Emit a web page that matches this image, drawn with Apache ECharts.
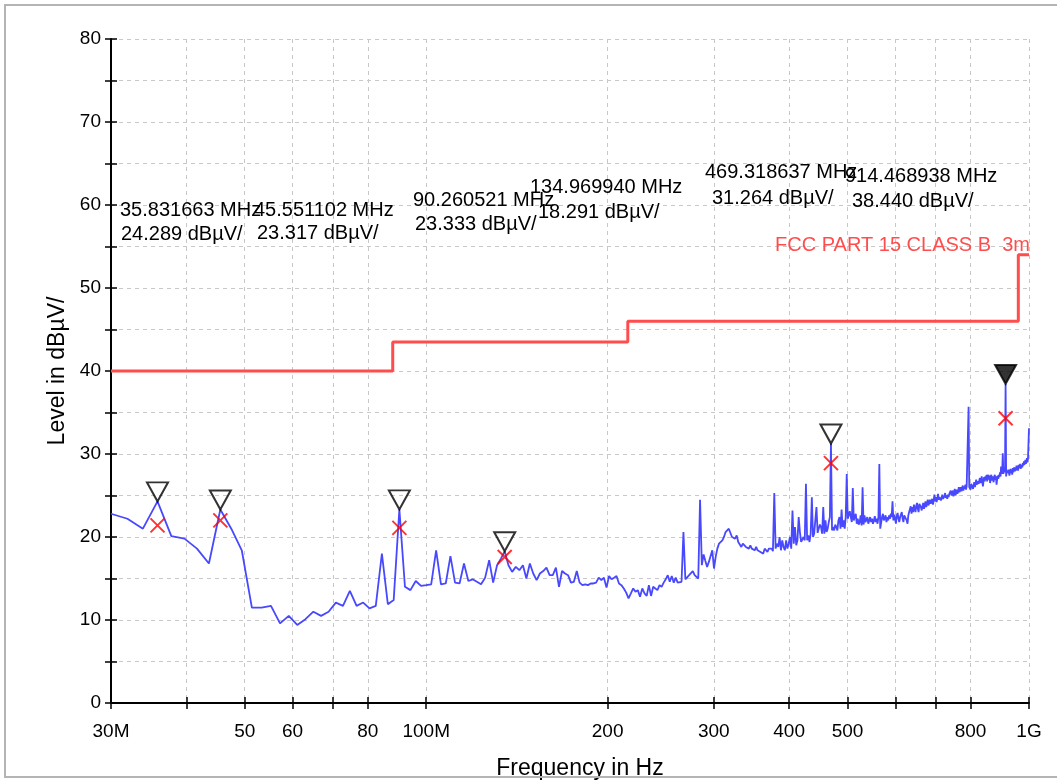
<!DOCTYPE html>
<html><head><meta charset="utf-8">
<script src="https://cdn.jsdelivr.net/npm/echarts@6/dist/echarts.min.js"></script>
<style>html,body{margin:0;padding:0;background:#fff}#c{width:1057px;height:780px}</style>
</head><body><div id="c"></div>
<script>
// ---- sweep definition (500 points, linear 30 MHz .. 1 GHz) ----
const sweepStartMHz = 30;
const sweepStopMHz = 1000;

const levelsA = [22.8,22.2,21.0,24.29,20.1,19.8,18.6,16.8,23.32,21.0,18.4,11.5,11.5,11.7,9.6,10.5,9.4,10.1,11.0,10.5,11.0,12.1,11.7,13.5,11.7,12.1,11.4,11.7,18.0,11.9,12.4,23.33,14.0,13.6,14.7,14.1,14.2,14.3,18.4,14.3,14.4,17.7,14.5,14.4,16.8,14.7,14.9,14.6,14.3,15.1,17.2,14.5,16.6,17.4,18.29];
const levelsB = [16.6,15.8,16.4,16.0,16.6,15.0,16.8,15.6,14.8,15.6,
 15.9,16.3,15.4,15.4,16.3,14.0,15.9,15.6,15.4,14.5,
 14.6,15.9,14.5,14.2,14.3,14.2,14.4,14.4,14.5,15.1,
 14.8,15.1,13.9,15.3,14.9,15.1,15.3,14.4,14.2,13.8,
 13.3,12.6,13.2,13.8,13.4,13.6,12.8,13.8,13.2,12.9,
 14.2,12.9,14.0,13.8,13.6,14.2,14.0,14.5,14.9,15.4,
 14.6,15.3,14.5,15.1,14.5,14.6,14.6,20.6,14.9,15.0,
 15.4,15.3,15.9,15.4,15.3,15.0];
const levelsC = [24.5,
 16.6,17.9,17.1,16.4,17.0,
 16.8,18.4,16.2,17.6,18.6,19.2,
 19.4,19.6,20.0,20.6,20.4,21.0,21.2,
 20.0,20.2,19.8,20.2,19.4,19.2,
 18.8,19.2,19.0,18.8,19.0,18.6,19.0,
 18.6,18.8,18.4,18.8,18.4,18.6,
 18.2,18.4,18.0,18.6,18.4,18.2,18.6,
 18.4,18.6,18.3,
 25.3,
 18.6,19.2,18.8,20.0,
 18.4,19.6,18.8,18.4,19.6,18.6,19.2,
 20.0,18.6,23.2,
 19.2,21.2,19.0,19.6,
 22.4,
 20.6,19.4,19.2,20.0,19.6,
 26.4,
 19.6,20.2,19.4,20.4,
 24.8,
 20.0,20.4,20.2,
 23.6,
 20.5,20.6,21.5,21.2,20.4,
 23.6,
 20.4,22.0,20.6,21.0,21.8,22.4,
 31.264,
 20.8,21.2,20.8,21.5,21.2,20.8,22.0,22.4,21.0,23.3,21.2,22.0,21.0,22.4,
 27.6,
 22.2,22.0,23.1,22.4,21.8,
 25.9,
 22.0,22.4,22.8,21.6,22.2,21.5,21.8,22.6,21.4,
 26.0,
 21.5,22.6,21.8,21.9,22.4,21.6,22.0,22.4,21.8,22.2,21.6,22.0,22.5,21.8,22.2,21.6,22.4,
 28.8,
 21.0,20.8,22.4,22.8,22.0,22.2,22.6,21.8,22.4,22.0,22.6,22.2,22.8,22.4,
 24.3];
const levelsD = [22.0,22.7,22.2,21.6,22.6,22.9,22.2,21.8,22.4,22.7,23.0,22.2,21.8,22.6,22.4,22.7,22.0,21.6,22.6,23.0,
 23.2,23.7,22.8,23.6,23.0,23.9,23.4,23.0,23.8,24.1,23.4,23.0,24.0,
 24.2,23.6,23.2,23.7,24.1,23.4,23.8,24.3,23.6,24.0,24.5,23.8,24.2,
 24.5,24.0,24.1,24.6,23.9,24.4,25.1,24.3,24.8,24.2,24.6,25.2,24.5,24.8,
 25.0,24.4,24.7,25.1,24.6,24.4,24.9,25.3,24.7,25.0,24.6,25.1,24.8,25.2,
 25.1,25.6,25.0,25.3,25.6,24.9,25.4,25.8,25.0,25.3,25.7,25.2,25.5,26.0,25.4,
 25.7,26.0,25.5,25.9,26.2,25.6,26.1,25.8,26.3,25.7,26.1,25.9,26.3,
 35.7,
 26.0,26.1,25.7,26.4,26.2,26.5,25.8,26.3,26.6,26.0,26.4,26.9,26.3,26.7,26.9,26.4,26.8,
 27.1,26.5,26.9,27.3,26.6,26.1,26.8,27.2,26.7,27.3,26.9,27.5,26.7,27.2,27.5,26.9,27.4,
 26.5,27.1,27.5,26.8,27.3,27.0,26.6,27.2,27.5,26.9,27.3,26.3,26.9,27.4,27.0,27.5,27.2,
 27.8,27.3,28.5,27.6,28.0,30.1,27.6,28.2,27.8,28.4,
 38.44,
 27.3,28.0,27.7,27.5,28.1,27.9,27.4,
 27.9,28.2,27.7,28.0,27.5,28.3,27.8,28.1,28.4,27.9,28.3,28.0,28.6,28.2,28.5,28.0,28.7,28.3,
 28.5,28.8,28.2,28.7,28.9,28.4,28.9,28.6,29.1,28.7,29.0,29.3,28.8,29.2,29.5,29.0,29.4,29.3,
 33.1];

// ---- limit line FCC Part 15 Class B 3m ----
const limitFreq  = [30, 88, 88, 216, 216, 960, 960, 1000];
const limitLevel = [40, 40, 43.5, 43.5, 46, 46, 54, 54];

// ---- markers ----
const peakFreq  = [35.831663, 45.551102, 90.260521, 134.969940, 469.318637, 914.468938];
const peakLevel = [24.289, 23.317, 23.333, 18.291, 31.264, 38.440];
const qpLevel   = [21.4, 22.0, 21.1, 17.6, 28.9, 34.3];

// ---- axis ticks ----
const xTickValues  = [30,40,50,60,70,80,100,200,300,400,500,600,700,800,1000];
const xLabelValues = [30,50,60,80,100,200,300,400,500,800,1000];
const xLabelNames  = {30:'30M', 100:'100M', 1000:'1G'};

// ---- layout (pixels) ----
const labelLayout = [[120,210,121,234],[254,210,257,233],[413,200,415,224],[530,187,538,212],[705,172,712,198],[845,176,852,201]];
const FONT = 'Liberation Sans, Arial, sans-serif';
const FS = 19;
const FS_MARK = 20;

const levels = levelsA.concat(levelsB, levelsC, levelsD);
const step = (sweepStopMHz - sweepStartMHz) / (levels.length - 1);
const trace = levels.map((v, i) => [sweepStartMHz + i * step, v]);
const limit = limitFreq.map((f, i) => [f, limitLevel[i]]);

const gridRect = {left: 111, right: 28, top: 39, bottom: 77, outerBoundsMode: 'none'};

function xAxisCfg(grid, inside) {
  return {
    type: 'log', logBase: 10, min: 30, max: 1000, gridIndex: grid,
    name: inside ? '' : 'Frequency in Hz', nameLocation: 'middle', nameGap: 54,
    nameTextStyle: {fontFamily: FONT, fontSize: 23, color: '#000', padding: [0, 0, 0, 20]},
    axisLine: {show: !inside, onZero: false, lineStyle: {color: '#000', width: 2}},
    axisTick: {show: true, inside: inside, length: 6, customValues: xTickValues, lineStyle: {color: '#000', width: 1.5}},
    axisLabel: {show: !inside, margin: 19, fontFamily: FONT, fontSize: FS, color: '#000',
      customValues: xLabelValues, formatter: v => xLabelNames[Math.round(v)] || String(Math.round(v))},
    splitLine: {show: !inside, lineStyle: {color: '#c8c8c8', type: [4, 4], width: 1}},
    minorTick: {show: false}
  };
}
function yAxisCfg(grid, inside) {
  return {
    type: 'value', min: 0, max: 80, interval: 5, gridIndex: grid, position: 'left',
    name: inside ? '' : 'Level in dBµV/', nameLocation: 'middle', nameGap: 40, nameRotate: 90,
    nameTextStyle: {fontFamily: FONT, fontSize: 23, color: '#000'},
    axisLine: {show: !inside, lineStyle: {color: '#000', width: 2}},
    axisTick: {show: true, inside: inside, length: 6, lineStyle: {color: '#000', width: 1.5}},
    axisLabel: {show: !inside, margin: 10, fontFamily: FONT, fontSize: FS, color: '#000',
      padding: [8, 0, 0, 0],
      formatter: v => (v % 10 === 0 ? String(v) : '')},
    splitLine: {show: !inside, lineStyle: {color: '#c8c8c8', type: [4, 4], width: 1}}
  };
}

const graphics = [{
  type: 'rect', z: 100, silent: true,
  shape: {x: 5, y: 5, width: 1100, height: 772},
  style: {fill: 'none', stroke: '#b4b4b4', lineWidth: 2}
}, {
  type: 'text', z: 100, style: {
    x: 1030, y: 245, text: 'FCC PART 15 CLASS B  3m', fill: '#ff4d4d',
    font: '20px ' + FONT, textAlign: 'right', textVerticalAlign: 'middle'
  }
}];
peakFreq.forEach((f, i) => {
  const L = labelLayout[i];
  graphics.push({type: 'text', z: 100, style: {x: L[0], y: L[1], text: f.toFixed(6) + ' MHz', fill: '#000',
    font: FS_MARK + 'px ' + FONT, textAlign: 'left', textVerticalAlign: 'middle'}});
  graphics.push({type: 'text', z: 100, style: {x: L[2], y: L[3], text: peakLevel[i].toFixed(3) + ' dBµV/', fill: '#000',
    font: FS_MARK + 'px ' + FONT, textAlign: 'left', textVerticalAlign: 'middle'}});
});

const chart = echarts.init(document.getElementById('c'), null, {renderer: 'canvas'});
chart.setOption({
  animation: false,
  backgroundColor: '#fff',
  grid: [Object.assign({}, gridRect), Object.assign({}, gridRect)],
  xAxis: [xAxisCfg(0, false), xAxisCfg(1, true)],
  yAxis: [yAxisCfg(0, false), yAxisCfg(1, true)],
  graphic: graphics,
  series: [{
    type: 'line', name: 'limit', data: limit, showSymbol: false, symbol: 'none',
    lineStyle: {color: '#ff4d4d', width: 3}, z: 2
  }, {
    type: 'line', name: 'trace', data: trace, showSymbol: false, symbol: 'none',
    lineStyle: {color: '#4848ff', width: 1.8}, z: 3
  }, {
    type: 'scatter', name: 'peak',
    data: peakFreq.map((f, i) => ({value: [f, peakLevel[i]],
      itemStyle: i === peakFreq.length - 1 ? {color: '#000'} : undefined})),
    symbol: 'path://M0,0L20,0L10,18Z', symbolSize: [21, 19], symbolOffset: [0, '-50%'],
    itemStyle: {color: 'rgba(0,0,0,0)', borderColor: '#000', borderWidth: 2}, z: 5
  }, {
    type: 'scatter', name: 'qp',
    data: peakFreq.map((f, i) => [f, qpLevel[i]]),
    symbol: 'path://M0,0L10,10M10,0L0,10', symbolSize: 14,
    itemStyle: {color: 'rgba(0,0,0,0)', borderColor: '#ff0000', borderWidth: 2}, z: 6
  }]
});
</script></body></html>
